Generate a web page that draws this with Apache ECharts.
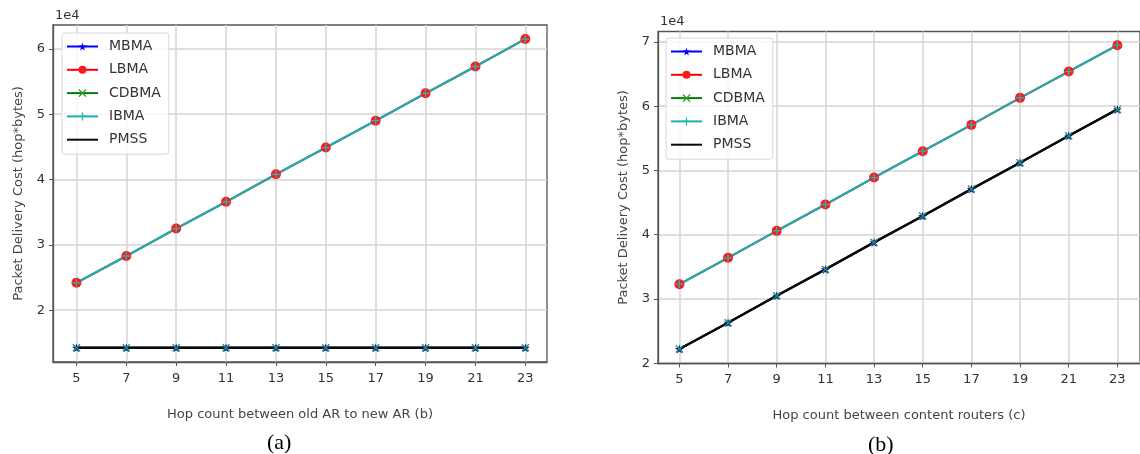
<!DOCTYPE html>
<html>
<head>
<meta charset="utf-8">
<title>Packet Delivery Cost</title>
<script src="https://cdn.jsdelivr.net/npm/echarts@6/dist/echarts.min.js"></script>
<style>
  html, body { margin: 0; padding: 0; background: #fff; }
  #chart { width: 1140px; height: 454px; }
</style>
</head>
<body>
<div id="chart"></div>
<script>
// hop counts on the x axis (both panels)
const hops = [5, 7, 9, 11, 13, 15, 17, 19, 21, 23]
const xTicks = [5, 7, 9, 11, 13, 15, 17, 19, 21, 23]

// (a) hop count between old AR to new AR
const aUpper = [24200, 28300, 32500, 36600, 40800, 44900, 49000, 53200, 57300, 61500] // LBMA / IBMA
const aLower = [14250, 14250, 14250, 14250, 14250, 14250, 14250, 14250, 14250, 14250] // MBMA / CDBMA / PMSS
const aYTicks = [20000, 30000, 40000, 50000, 60000]

// (b) hop count between content routers
const bUpper = [32300, 36400, 40600, 44700, 48900, 53000, 57100, 61300, 65400, 69500] // LBMA / IBMA
const bLower = [22200, 26300, 30500, 34600, 38800, 42900, 47100, 51200, 55400, 59500] // MBMA / CDBMA / PMSS
const bYTicks = [20000, 30000, 40000, 50000, 60000, 70000]

const names = ['MBMA', 'LBMA', 'CDBMA', 'IBMA', 'PMSS']

const FONT = 'DejaVu Sans'
const TXT = '#333'
const STAR = 'path://M50,0 L61,35 L98,35 L68,57 L79,91 L50,70 L21,91 L32,57 L2,35 L39,35 Z'
const XMARK = 'path://M0,12 L12,0 L50,38 L88,0 L100,12 L62,50 L100,88 L88,100 L50,62 L12,100 L0,88 L38,50 Z'
const PLUS = 'path://M42,0 H58 V42 H100 V58 H58 V100 H42 V58 H0 V42 H42 Z'

const pairs = (ys) => hops.map((h, i) => [h, ys[i]])

// one panel = 5 line series
const makeSeries = (idx, upper, lower) => [
  {name: 'MBMA', type: 'line', data: pairs(lower), symbol: STAR, symbolSize: 9,
    lineStyle: {color: '#0000ff', width: 2}, itemStyle: {color: '#0000ff'}},
  {name: 'LBMA', type: 'line', data: pairs(upper), symbol: 'circle', symbolSize: 10,
    lineStyle: {color: '#ff0000', width: 2}, itemStyle: {color: '#ff1a1a'}},
  {name: 'CDBMA', type: 'line', data: pairs(lower), symbol: XMARK, symbolSize: 8,
    lineStyle: {color: '#008000', width: 2}, itemStyle: {color: '#2a9a2a'}},
  {name: 'IBMA', type: 'line', data: pairs(upper), symbol: PLUS, symbolSize: 8,
    lineStyle: {color: '#20adad', width: 2.2}, itemStyle: {color: '#1fb8b8'}},
  {name: 'PMSS', type: 'line', data: pairs(lower), symbol: 'none',
    lineStyle: {color: '#0a0a0a', width: 2.4}, itemStyle: {color: '#000'}}
].map(s => Object.assign(s, {xAxisIndex: idx, yAxisIndex: idx, showSymbol: s.symbol !== 'none', animation: false}))

const makeX = (idx, min, max, title) => ({
  type: 'value', gridIndex: idx, min: min, max: max,
  name: title, nameLocation: 'middle', nameGap: 46,
  nameTextStyle: {fontFamily: FONT, fontSize: 13, color: '#444'},
  axisLine: {show: true, lineStyle: {color: '#555', width: 1.3}},
  axisTick: {show: true, length: 4, customValues: xTicks, lineStyle: {color: '#555'}},
  axisLabel: {customValues: xTicks, margin: 10, fontFamily: FONT, fontSize: 13, color: TXT},
  splitLine: {show: true, lineStyle: {color: '#d4d4d4', width: 1.5}}
})

const makeY = (idx, min, max, ticks) => ({
  type: 'value', gridIndex: idx, min: min, max: max,
  name: 'Packet Delivery Cost (hop*bytes)', nameLocation: 'middle', nameGap: 28,
  nameTextStyle: {fontFamily: FONT, fontSize: 13, color: '#444'},
  axisLine: {show: true, lineStyle: {color: '#555', width: 1.3}},
  axisTick: {show: true, length: 4, customValues: ticks, lineStyle: {color: '#555'}},
  axisLabel: {customValues: ticks, margin: 8, fontFamily: FONT, fontSize: 13, color: TXT,
    formatter: (v) => String(Math.round(v / 10000))},
  splitLine: {show: true, lineStyle: {color: '#d4d4d4', width: 1.5}}
})

// PMSS has no marker, so hide the symbol in its legend icon
const legendData = names.map(n => n === 'PMSS' ? {name: n, itemStyle: {opacity: 0}} : n)

const makeLegend = (left, top) => ({
  orient: 'vertical', left: left, top: top,
  data: legendData, itemWidth: 31, itemHeight: 10, itemGap: 8.3,
  padding: [6, 8, 7, 4],
  backgroundColor: 'rgba(255,255,255,0.8)',
  borderColor: '#d8d8d8', borderWidth: 1, borderRadius: 3,
  selectedMode: false,
  textStyle: {fontFamily: FONT, fontSize: 14, color: TXT, lineHeight: 15, padding: [0, 0, 0, 6]}
})

const chart = echarts.init(document.getElementById('chart'))
const option = {
  animation: false,
  backgroundColor: '#fff',
  grid: [
    {left: 53, top: 25, width: 494, height: 337, show: true, borderColor: '#555', borderWidth: 1.3},
    {left: 658, top: 31.5, width: 488, height: 332, show: true, borderColor: '#555', borderWidth: 1.3}
  ],
  xAxis: [
    makeX(0, 4.06, 23.87, 'Hop count between old AR to new AR (b)'),
    makeX(1, 4.12, 23.93, 'Hop count between content routers (c)')
  ],
  yAxis: [
    makeY(0, 12080, 63650, aYTicks),
    makeY(1, 19950, 71630, bYTicks)
  ],
  legend: [makeLegend(62, 33), makeLegend(666, 38)],
  graphic: [
    {type: 'text', left: 55, top: 9, style: {text: '1e4', fontFamily: FONT, fontSize: 13, fill: TXT}},
    {type: 'text', left: 660, top: 15, style: {text: '1e4', fontFamily: FONT, fontSize: 13, fill: TXT}},
    {type: 'text', left: 267, top: 432, style: {text: '(a)', fontFamily: 'Liberation Serif', fontSize: 22, fill: '#000'}},
    {type: 'text', left: 868, top: 434, style: {text: '(b)', fontFamily: 'Liberation Serif', fontSize: 22, fill: '#000'}}
  ],
  series: [...makeSeries(0, aUpper, aLower), ...makeSeries(1, bUpper, bLower)]
}
chart.setOption(option)
</script>
</body>
</html>
